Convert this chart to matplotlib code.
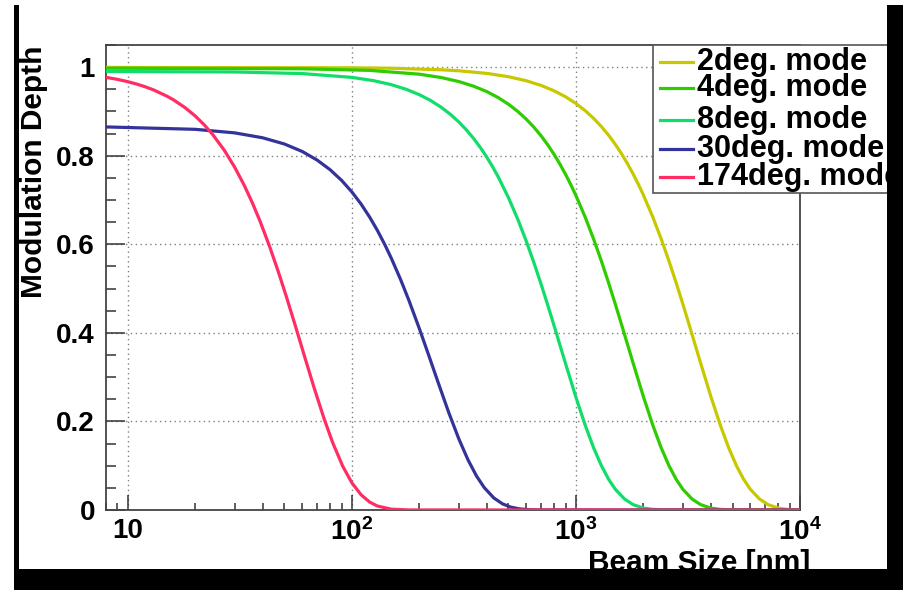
import matplotlib
matplotlib.use("Agg")
import matplotlib.pyplot as plt
from matplotlib.patches import Rectangle
from matplotlib.lines import Line2D
from matplotlib.ticker import MultipleLocator, LogLocator, NullFormatter, FuncFormatter

plt.rcParams['font.family'] = ['Liberation Sans', 'DejaVu Sans']
plt.rcParams['font.weight'] = 'bold'
plt.rcParams['mathtext.fontset'] = 'custom'
plt.rcParams['mathtext.rm'] = 'Liberation Sans:bold'
plt.rcParams['mathtext.it'] = 'Liberation Sans:bold'
plt.rcParams['mathtext.bf'] = 'Liberation Sans:bold'

# Beam size [nm] and modulation depth
size_2deg = [8, 100, 150, 250, 300, 400, 500, 600, 700, 800, 900, 1000, 1100, 1200, 1300,
             1400, 1500, 1600, 1700, 1800, 1900, 2000, 2200, 2400, 2600, 2800, 3000,
             3200, 3600, 4000, 4400, 4800, 5200, 5600, 6000, 6600, 7200, 8000, 8800, 10000]
depth_2deg = [0.9994, 0.9985, 0.9975, 0.9941, 0.9918, 0.9859, 0.9784, 0.9693, 0.9586,
              0.9465, 0.9329, 0.9180, 0.9017, 0.8843, 0.8657, 0.8461, 0.8255, 0.8040,
              0.7818, 0.7589, 0.7354, 0.7114, 0.6624, 0.6126, 0.5627, 0.5133, 0.4652,
              0.4186, 0.3322, 0.2566, 0.1929, 0.1411, 0.1004, 0.0696, 0.0469, 0.0247,
              0.0122, 0.0043, 0.0014, 0.0002]

size_4deg = [8, 60, 120, 200, 250, 300, 350, 400, 450, 500, 550, 600, 650, 700, 750, 800,
             850, 900, 950, 1000, 1100, 1200, 1300, 1400, 1500, 1600, 1800, 2000, 2200,
             2400, 2600, 2800, 3000, 3300, 3600, 4000, 4400, 5000, 10000]
depth_4deg = [0.9976, 0.9963, 0.9927, 0.9841, 0.9766, 0.9675, 0.9569, 0.9448, 0.9312,
              0.9163, 0.9001, 0.8827, 0.8642, 0.8446, 0.8240, 0.8026, 0.7804, 0.7576,
              0.7341, 0.7102, 0.6613, 0.6116, 0.5618, 0.5125, 0.4644, 0.4180, 0.3318,
              0.2563, 0.1926, 0.1409, 0.1003, 0.0695, 0.0469, 0.0247, 0.0122, 0.0043,
              0.0014, 0.0002, 0.0]

size_8deg = [8, 30, 60, 100, 125, 150, 175, 200, 225, 250, 275, 300, 325, 350, 375, 400,
             425, 450, 500, 550, 600, 650, 700, 750, 800, 900, 1000, 1100, 1200, 1300,
             1400, 1500, 1650, 1800, 2000, 2200, 2500, 10000]
depth_8deg = [0.9902, 0.9891, 0.9855, 0.9769, 0.9695, 0.9605, 0.9499, 0.9379, 0.9245,
              0.9097, 0.8937, 0.8764, 0.8580, 0.8386, 0.8182, 0.7969, 0.7749, 0.7523,
              0.7053, 0.6568, 0.6075, 0.5580, 0.5092, 0.4615, 0.4154, 0.3298, 0.2548,
              0.1916, 0.1402, 0.0999, 0.0692, 0.0467, 0.0246, 0.0122, 0.0043, 0.0014,
              0.0002, 0.0]

size_30deg = [8, 20, 30, 40, 50, 60, 70, 80, 90, 100, 110, 120, 130, 140, 150, 165, 180,
              200, 220, 240, 270, 300, 330, 360, 390, 430, 470, 510, 560, 620, 700, 10000]
depth_30deg = [0.8650, 0.8596, 0.8516, 0.8405, 0.8265, 0.8097, 0.7902, 0.7684, 0.7444,
               0.7184, 0.6908, 0.6617, 0.6315, 0.6004, 0.5687, 0.5207, 0.4727, 0.4101,
               0.3505, 0.2952, 0.2217, 0.1611, 0.1132, 0.0769, 0.0505, 0.0273, 0.0140,
               0.0067, 0.0025, 0.0007, 0.0001, 0.0]

size_174deg = [8, 9, 10, 11, 12, 13, 15, 16, 18, 20, 22, 24, 27, 30, 33, 36, 39, 43, 47,
               51, 56, 62, 68, 75, 82, 91, 100, 110, 120, 130, 150, 180, 10000]
depth_174deg = [0.9770, 0.9724, 0.9672, 0.9616, 0.9555, 0.9489, 0.9342, 0.9262, 0.9088,
                0.8898, 0.8692, 0.8473, 0.8120, 0.7742, 0.7346, 0.6935, 0.6514, 0.5946,
                0.5379, 0.4824, 0.4157, 0.3413, 0.2748, 0.2080, 0.1532, 0.0993, 0.0616,
                0.0343, 0.0181, 0.0090, 0.0019, 0.0001, 0.0]

mode_names = ["2deg. mode", "4deg. mode", "8deg. mode", "30deg. mode", "174deg. mode"]
mode_colors = ["#c8c800", "#2ecc00", "#11dd6a", "#333399", "#ff2d64"]
sizes = [size_2deg, size_4deg, size_8deg, size_30deg, size_174deg]
depths = [depth_2deg, depth_4deg, depth_8deg, depth_30deg, depth_174deg]

W, H = 904, 590


def fx(x):
    return x / W


def fy(y):
    return 1 - y / H


fig = plt.figure(figsize=(W / 100, H / 100), dpi=100)
ax = fig.add_axes([fx(106), fy(510), fx(800) - fx(106), fy(45) - fy(510)])

for s, d, c in zip(sizes, depths, mode_colors):
    ax.plot(s, d, color=c, lw=2.3, solid_capstyle='butt', solid_joinstyle='round', zorder=3)

ax.set_xscale('log')
ax.set_xlim(8, 10000)
ax.set_ylim(0, 1.05)

ax.set_xticks([10, 100, 1000, 10000])
ax.set_xticklabels(["10", r"$10^{2}$", r"$10^{3}$", r"$10^{4}$"])
ax.xaxis.set_minor_locator(LogLocator(base=10, subs=range(2, 10)))
ax.xaxis.set_minor_formatter(NullFormatter())
ax.yaxis.set_major_locator(MultipleLocator(0.2))
ax.yaxis.set_minor_locator(MultipleLocator(0.05))
ax.yaxis.set_major_formatter(FuncFormatter(lambda v, _: f"{v:g}"))

ax.tick_params(axis='both', which='both', direction='in', top=False, right=False,
               labelsize=20, width=1.1, color='#333333')
ax.tick_params(axis='y', which='major', length=14, pad=8)
ax.tick_params(axis='y', which='minor', length=7)
ax.tick_params(axis='x', which='major', length=11, pad=6)
ax.tick_params(axis='x', which='minor', length=5)

ax.grid(which='major', color='#808080', linestyle=(0, (1, 2.5)), lw=1.0)
for sp in ax.spines.values():
    sp.set_color('#444444')
    sp.set_linewidth(1.3)

# axis titles
fig.text(fx(20), fy(45), "Modulation Depth", rotation=90, ha='left', va='top',
         fontsize=21.5, fontweight='bold')
fig.text(fx(810), fy(571), "Beam Size [nm]", ha='right', va='baseline',
         fontsize=21.5, fontweight='bold')

# legend box
fig.add_artist(Rectangle((fx(653), fy(193)), fx(920) - fx(653), fy(45) - fy(193),
                         transform=fig.transFigure, facecolor='white',
                         edgecolor='#555555', lw=1.2, zorder=5))
row_y = [62, 88, 120, 149, 177]
for name, c, ry in zip(mode_names, mode_colors, row_y):
    fig.add_artist(Line2D([fx(660), fx(693)], [fy(ry), fy(ry)], color=c, lw=2.3,
                          transform=fig.transFigure, zorder=6))
    fig.text(fx(697), fy(ry), name, ha='left', va='center', fontsize=22,
             fontweight='bold', zorder=6)

# black frame strips
for x0, y0, x1, y1 in [(14, 5, 19, 590), (14, 569, 904, 590), (887, 5, 904, 590)]:
    fig.add_artist(Rectangle((fx(x0), fy(y1)), fx(x1) - fx(x0), fy(y0) - fy(y1),
                             transform=fig.transFigure, facecolor='black',
                             edgecolor='none', zorder=10))

fig.savefig("out.png", dpi=100, facecolor='white')
